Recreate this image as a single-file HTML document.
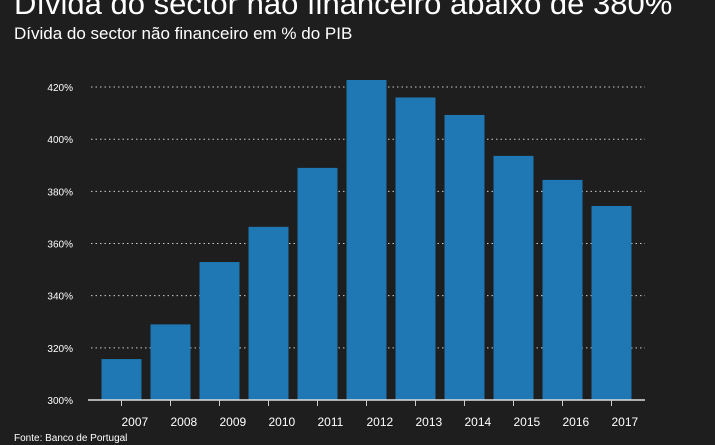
<!DOCTYPE html>
<html><head><meta charset="utf-8"><style>
body{margin:0;background:#1e1e1e;width:715px;height:445px;overflow:hidden;font-family:"Liberation Sans",sans-serif}
</style></head><body>
<svg width="715" height="445" style="position:absolute;left:0;top:0">
<rect width="715" height="445" fill="#1e1e1e"/>
<text x="14" y="14" font-size="31" fill="#fff">Dívida do sector não financeiro abaixo de 380%</text>
<text x="14" y="39" font-size="17" fill="#fff">Dívida do sector não financeiro em % do PIB</text>
<g id="grid"></g><g id="bars"></g><g id="xaxis"></g>
<text x="14" y="441" font-size="10" fill="#fff">Fonte: Banco de Portugal</text>
</svg>
<script>
const categories=["2007","2008","2009","2010","2011","2012","2013","2014","2015","2016","2017"];
const values=[315.7,329,352.9,366.4,389,422.7,416,409.3,393.6,384.4,374.4];
const yTicks=[300,320,340,360,380,400,420];
const NS="http://www.w3.org/2000/svg";
const y=v=>400-(v-300)*2.608;
const x=i=>121.5+i*49;
function mk(t,a,p){const e=document.createElementNS(NS,t);for(const k in a)e.setAttribute(k,a[k]);p.appendChild(e);return e;}
const g=document.getElementById('grid'),b=document.getElementById('bars'),xa=document.getElementById('xaxis');
yTicks.forEach(v=>{
const l=mk('line',{x1:91,x2:645,y1:y(v),y2:y(v),stroke:'#ccc','stroke-width':1,'stroke-dasharray':'1.5,3'},g);


const t=mk('text',{x:73,y:y(v)+4,'font-size':10,fill:'#fff','text-anchor':'end'},g);
t.textContent=v+'%';


});
values.forEach((v,i)=>{
const r=mk('rect',{x:x(i)-20,y:y(v),width:40,height:400-y(v),fill:'#1f77b4'},b);


});
const ax=mk('line',{x1:88,x2:645,y1:400,y2:400,stroke:'#ddd','stroke-width':1.5},xa);


categories.forEach((c,i)=>{
const tk=mk('line',{x1:x(i),x2:x(i),y1:400,y2:406,stroke:'#ccc'},xa);


const t=mk('text',{x:x(i),y:426,'font-size':12,fill:'#fff'},xa);
t.textContent=c;


});
</script>
</body></html>
